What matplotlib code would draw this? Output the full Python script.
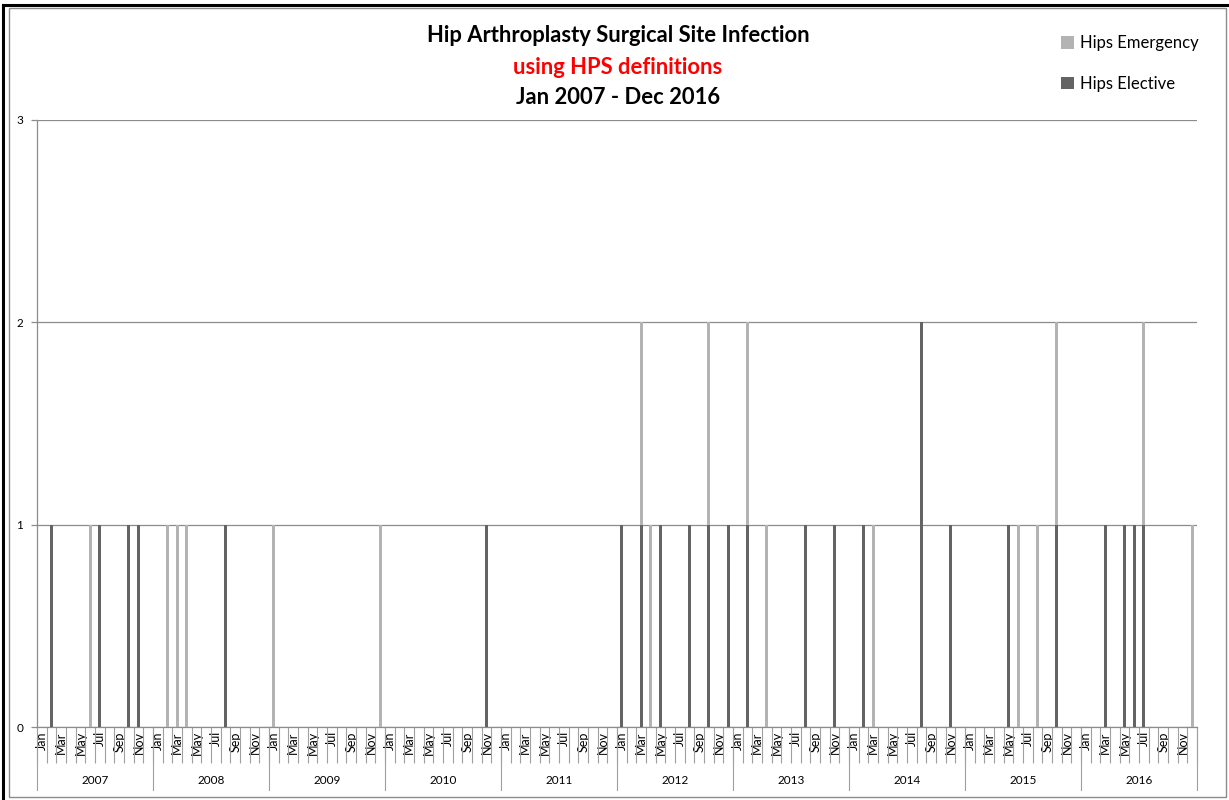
import matplotlib
matplotlib.use("Agg")
import matplotlib.pyplot as plt
from matplotlib.patches import Rectangle, Patch
from matplotlib.lines import Line2D
import numpy as np

plt.rcParams['font.family'] = ['Lato', 'DejaVu Sans']

# ---- data ----
years = list(range(2007, 2017))
month_names = ["Jan", "Feb", "Mar", "Apr", "May", "Jun",
               "Jul", "Aug", "Sep", "Oct", "Nov", "Dec"]
months = [f"{m} {y}" for y in years for m in month_names]

# (month index from Jan 2007 -> count)
elective_events = {1: 1, 6: 1, 9: 1, 10: 1, 19: 1, 46: 1, 60: 1, 62: 1, 64: 1,
                   67: 1, 69: 1, 71: 1, 73: 1, 79: 1, 82: 1, 85: 1, 91: 2,
                   94: 1, 100: 1, 105: 1, 110: 1, 112: 1, 113: 1, 114: 1}
emergency_events = {5: 1, 13: 1, 14: 1, 15: 1, 24: 1, 35: 1, 62: 1, 63: 1,
                    69: 1, 73: 1, 75: 1, 86: 1, 101: 1, 103: 1, 105: 1,
                    114: 1, 119: 1}
hips_elective = [elective_events.get(i, 0) for i in range(len(months))]
hips_emergency = [emergency_events.get(i, 0) for i in range(len(months))]

title_lines = ["Hip Arthroplasty Surgical Site Infection",
               "using HPS definitions",
               "Jan 2007 - Dec 2016"]

# ---- figure ----
W, H = 1229, 800
fig = plt.figure(figsize=(W / 100, H / 100), dpi=100)
fig.patch.set_facecolor("white")

def fx(px):
    return px / W

def fy(py):
    return 1 - py / H

ax_left, ax_right, ax_top, ax_bot = 37, 1197, 120, 727
ax = fig.add_axes([fx(ax_left), fy(ax_bot), fx(ax_right - ax_left),
                   (ax_bot - ax_top) / H])

dark = "#646464"
light = "#B3B3B3"
grid_c = "#8C8C8C"

x = np.arange(len(months))
bw = 0.32
ax.bar(x, hips_elective, width=bw, color=dark, zorder=3, label="Hips Elective")
ax.bar(x, hips_emergency, width=bw, bottom=hips_elective, color=light,
       zorder=3, label="Hips Emergency")

ax.set_xlim(-0.5, len(months) - 0.5)
ax.set_ylim(0, 3)
ax.set_yticks([0, 1, 2, 3])
ax.set_yticklabels(["0", "1", "2", "3"], fontsize=8.5)
ax.yaxis.grid(True, color=grid_c, linewidth=0.9, zorder=0)
ax.tick_params(axis='y', length=4, color=grid_c, pad=6, width=0.9)

for s in ["top", "right"]:
    ax.spines[s].set_visible(False)
for s in ["left", "bottom"]:
    ax.spines[s].set_color(grid_c)
    ax.spines[s].set_linewidth(0.9)

# month labels at category centres
ax.set_xticks(x)
ax.set_xticklabels([m.split()[0] if i % 2 == 0 else "" for i, m in enumerate(months)],
                   rotation=90, fontsize=9, va="top")
ax.tick_params(axis='x', which='major', length=0, pad=3)
# month boundary ticks
ax.set_xticks(np.arange(-0.5, len(months), 1.0), minor=True)
ax.tick_params(axis='x', which='minor', length=26, color="#A0A0A0", width=0.8)

# year separators and labels
trans = ax.get_xaxis_transform()
y_line = -(790 - ax_bot) / (ax_bot - ax_top)
y_lab = -(781 - ax_bot) / (ax_bot - ax_top)
for k, yr in enumerate(years):
    ax.plot([12 * k - 0.5, 12 * k - 0.5], [0, y_line], transform=trans,
            color="#A0A0A0", lw=0.8, clip_on=False)
    ax.text(12 * k + 5.5, y_lab, str(yr), transform=trans, ha="center",
            va="center", fontsize=8.5)
ax.plot([len(months) - 0.5] * 2, [0, y_line], transform=trans,
        color="#A0A0A0", lw=0.8, clip_on=False)

# title
tx = fx(618)
fig.text(tx, fy(36), title_lines[0], ha="center", va="center",
         fontsize=15.8, fontweight="bold", color="black")
fig.text(tx, fy(67), title_lines[1], ha="center", va="center",
         fontsize=15.8, fontweight="bold", color="#FF0000")
fig.text(tx, fy(98), title_lines[2], ha="center", va="center",
         fontsize=15.8, fontweight="bold", color="black")

# legend
handles = [Patch(facecolor=light, edgecolor="none"),
           Patch(facecolor=dark, edgecolor="none")]
fig.legend(handles, ["Hips Emergency", "Hips Elective"], loc="upper left",
           bbox_to_anchor=(fx(1053), fy(27)), frameon=False, fontsize=12,
           handlelength=0.75, handleheight=0.75, handletextpad=0.4,
           labelspacing=1.45, borderpad=0)

# chart frame
fig.add_artist(Rectangle((fx(9), fy(797)), fx(1226 - 9), (797 - 8) / H,
                         transform=fig.transFigure, fill=False,
                         edgecolor="#8C8C8C", lw=1.0))
fig.add_artist(Line2D([fx(3), fx(3)], [0, fy(5)], transform=fig.transFigure,
                      color="black", lw=2.2))
fig.add_artist(Line2D([fx(3), 1], [fy(5), fy(5)], transform=fig.transFigure,
                      color="black", lw=2.2))

fig.savefig("out.png", dpi=100, facecolor="white")
